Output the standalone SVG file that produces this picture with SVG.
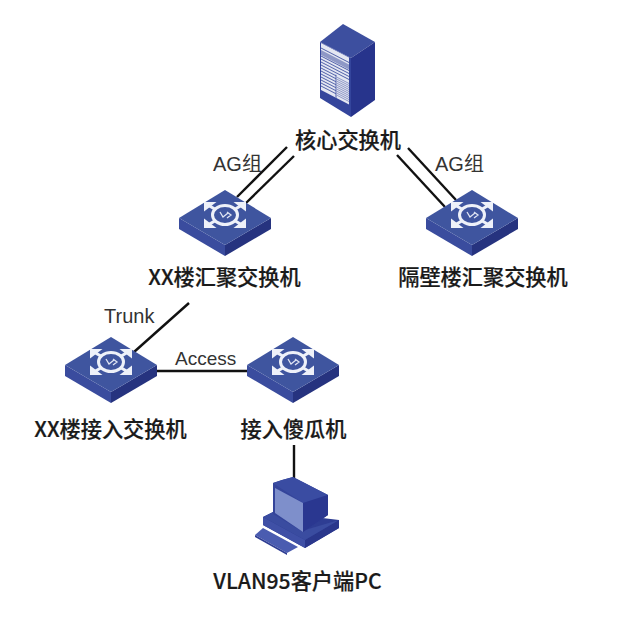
<svg xmlns="http://www.w3.org/2000/svg" width="617" height="628" viewBox="0 0 617 628">
<style>
text{font-family:"Noto Sans CJK SC","Liberation Sans",sans-serif;fill:#1a1a1a}
.n{font-size:21.200px;font-weight:500;text-anchor:middle;stroke:#1a1a1a;stroke-width:.2px}
.l{font-family:"Liberation Sans","Noto Sans CJK SC",sans-serif;fill:#333;font-weight:400}
.c{stroke:#111;stroke-width:2.4;fill:none}
</style>
<defs>
<g id="arrow">
<path d="M-21 -13H-8.500L-21 -3.500Z" fill="#eef1f9"/>
<path d="M-17 -10L-7 -4" stroke="#eef1f9" stroke-width="3.200" fill="none"/>
</g>
<g id="sw">
<path d="M-46 28L0 55V66L-46 39Z" fill="#3a4c9e"/>
<path d="M46 28L0 55V66L46 39Z" fill="#26337f"/>
<path d="M0 0L46 28L0 55L-46 28Z" fill="#3f559f"/>
<g transform="translate(0 25)">
<use href="#arrow"/>
<use href="#arrow" transform="scale(-1 1)"/>
<use href="#arrow" transform="scale(1 -1)"/>
<use href="#arrow" transform="scale(-1 -1)"/>
<ellipse cx="0" cy="0" rx="12.500" ry="9.500" fill="#3f559f" stroke="#eef1f9" stroke-width="3"/>
<path d="M-5 -3L-2 2L3 -2M2 3L6 0L2 -3" stroke="#dfe4f3" stroke-width="1.300" fill="none"/>
</g>
</g>
</defs>
<rect width="617" height="628" fill="#fff"/>
<g id="connectors">
<path class="c" d="M287 147L237 197"/>
<path class="c" d="M294 156L245 204"/>
<path class="c" d="M397 155L445 207"/>
<path class="c" d="M408 148L456 200"/>
<path class="c" d="M189 303L134 352"/>
<path class="c" d="M157 371H248"/>
<path class="c" d="M294 445V478"/>
</g>
<g id="core">
<path d="M343 24L375 42L351 58L320 42Z" fill="#3d4f9f"/>
<path d="M351 58L375 42V100L351 117Z" fill="#27348c"/>
<path d="M320 42L351 58V117L320 98Z" fill="#34459c"/>
<g transform="matrix(1 .52 0 1 321 43)">
<rect width="28" height="47" fill="#e4e7f2"/>
<path d="M0 5H28M0 13H28M0 16H28M0 19H28M0 22H28M0 25H15M0 28H15M0 31H15M0 34H15M0 37H15M0 40H15M0 43H15" stroke="#4f5fa8" stroke-width=".9" fill="none"/>
<rect y="7" width="28" height="5" fill="#8e98c6"/>
<path d="M15 24V47" stroke="#4f5fa8" stroke-width="1"/>
<path d="M16 26H28M16 28H28M16 30H28M16 32H28M16 34H28M16 36H28M16 38H28M16 40H28M16 42H28M16 44H28" stroke="#8e98c6" stroke-width="1"/>
</g>
<text class="n" x="348" y="148">核心交换机</text>
</g>
<g id="agg-xx">
<use href="#sw" x="225" y="190"/>
<text class="n" x="224.500" y="285">XX楼汇聚交换机</text>
</g>
<g id="agg-neighbor">
<use href="#sw" x="472" y="190"/>
<text class="n" x="483" y="285">隔壁楼汇聚交换机</text>
</g>
<g id="access-xx">
<use href="#sw" x="111" y="337"/>
<text class="n" x="110.500" y="437">XX楼接入交换机</text>
</g>
<g id="access-dumb">
<use href="#sw" x="293" y="337"/>
<text class="n" x="293.500" y="437">接入傻瓜机</text>
</g>
<g id="pc">
<path d="M263 517L273 512L339 520V528L305 548L263 525Z" fill="#2e3d93"/>
<path d="M263 517L305 540V548L263 525Z" fill="#3f50a6"/>
<path d="M305 540L339 520V528L305 548Z" fill="#2a378c"/>
<path d="M263 517L273 512L305 530L339 520L305 540Z" fill="#3a4ca0"/>
<path d="M273 483L282 480L293 477L328 495V515L303 532L273 514Z" fill="#34449a"/>
<path d="M273 483L282 480L293 477L328 495L303 503Z" fill="#3a4ca2"/>
<path d="M303 503L328 495V515L303 532Z" fill="#2a3790"/>
<path d="M275 488L303 503V532L275 513Z" fill="#7e8fcb"/>
<path d="M255 535L263 528L298 547L287 553Z" fill="#4a5cb0"/>
<path d="M255 535L287 553V555L255 537Z" fill="#2e3d93"/>
<text class="n" x="297.500" y="589">VLAN95客户端PC</text>
</g>
<text class="l" font-size="20" x="213" y="171">AG组</text>
<text class="l" font-size="20" x="435" y="171">AG组</text>
<text class="l" font-size="20" x="104" y="323">Trunk</text>
<text class="l" font-size="19" x="175" y="365">Access</text>
</svg>
